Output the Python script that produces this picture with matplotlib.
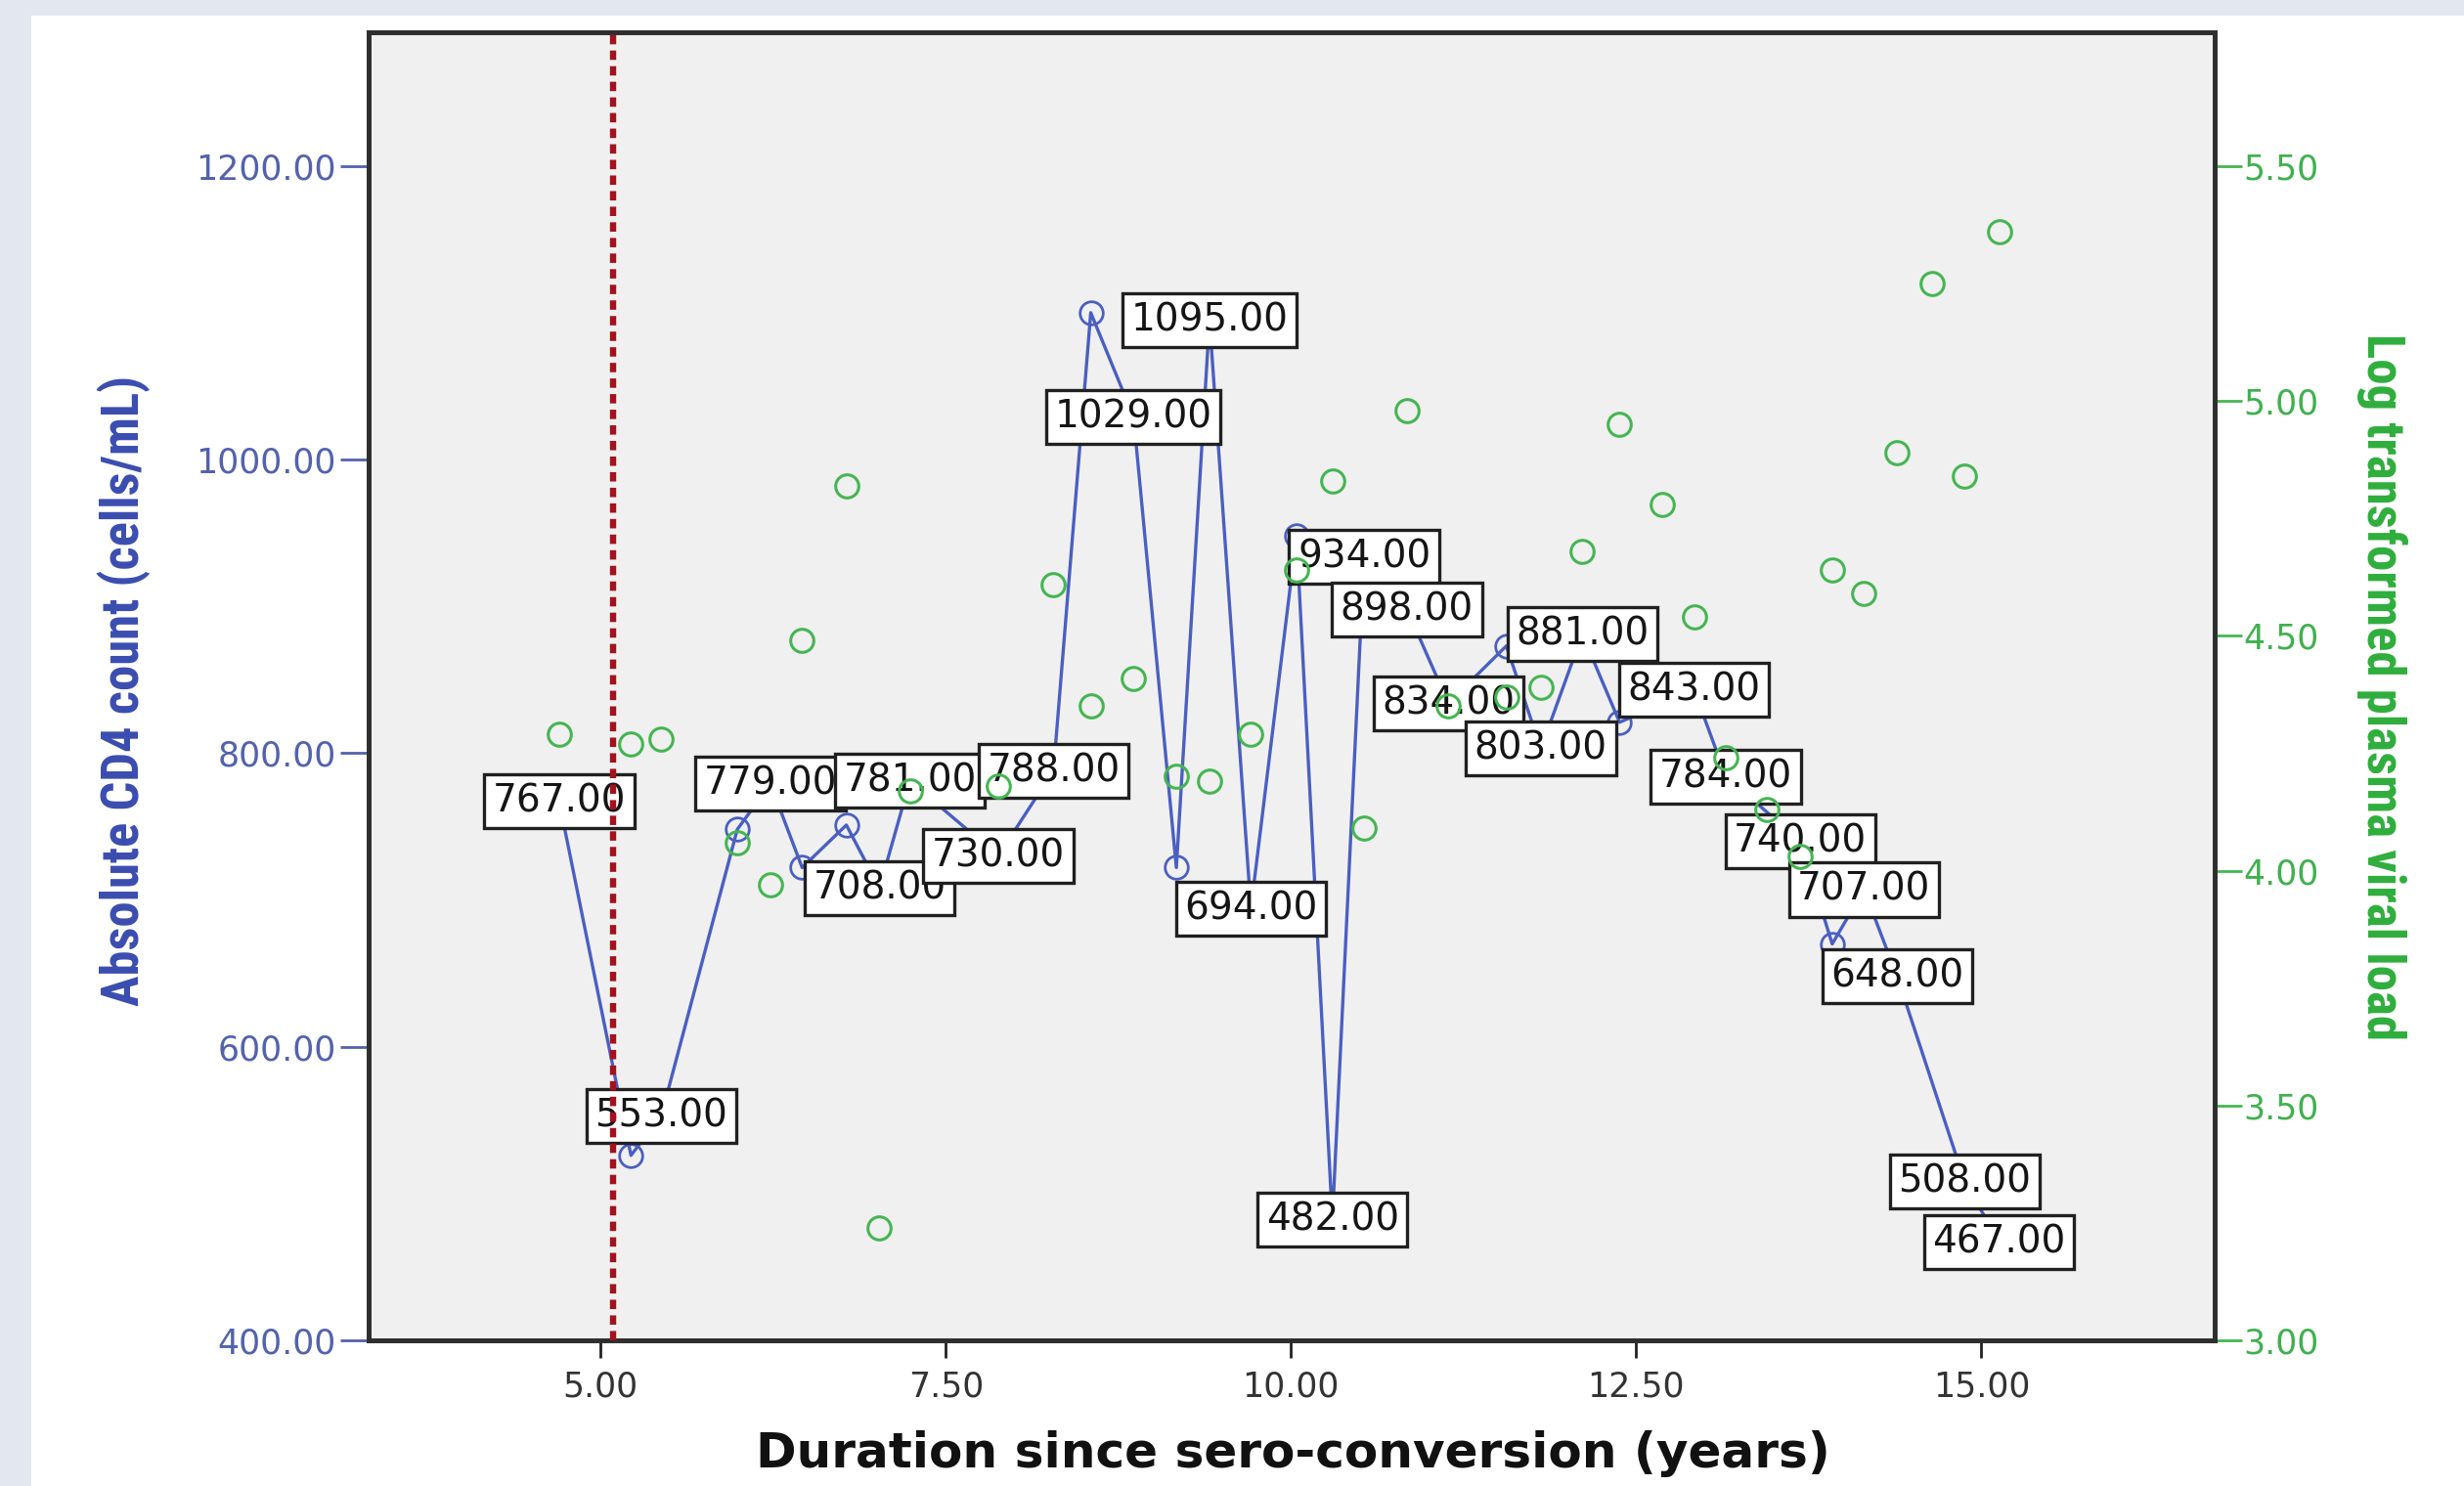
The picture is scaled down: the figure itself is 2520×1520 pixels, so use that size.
import matplotlib
matplotlib.use('Agg')
import matplotlib.pyplot as plt
from matplotlib import font_manager
from matplotlib.patches import Rectangle

# time points (years since sero-conversion)
years = [4.70, 5.22, 5.44, 5.99, 6.23, 6.46, 6.78, 7.02, 7.24, 7.88,
         8.28, 8.55, 8.86, 9.17, 9.41, 9.71, 10.04, 10.30, 10.53, 10.84,
         11.14, 11.56, 11.81, 12.11, 12.38, 12.69, 12.92, 13.15, 13.45, 13.69,
         13.92, 14.15, 14.39, 14.64, 14.88, 15.13]

# absolute CD4 count (None = no measurement)
cd4 = [767, 526, 553, 748, 779, 722, 751, 708, 781, 730,
       788, 1100, 1029, 722, 1095, 694, 948, 482, 934, 898,
       834, 873, 803, 881, 821, None, 843, 784, None, 740,
       670, 707, 648, None, 508, 467]

# which CD4 points carry a value label
cd4_labelled = [1, 0, 1, 0, 1, 0, 0, 1, 1, 1,
                1, 0, 1, 0, 1, 1, 0, 1, 1, 1,
                1, 0, 1, 1, 0, 0, 1, 1, 0, 1,
                0, 1, 1, 0, 1, 1]

# log transformed plasma viral load
viral_load = [4.29, 4.27, 4.28, 4.06, 3.97, 4.49, 4.82, 3.24, 4.17, 4.18,
              4.61, 4.35, 4.41, 4.20, 4.19, 4.29, 4.64, 4.83, 4.09, 4.98,
              4.35, 4.37, 4.39, 4.68, 4.95, 4.78, 4.54, 4.24, 4.13, 4.03,
              4.64, 4.59, 4.89, 5.25, 4.84, 5.36]

ref_line = 5.09

cd4_ticks = [400, 600, 800, 1000, 1200]
vl_ticks = [3.0, 3.5, 4.0, 4.5, 5.0, 5.5]
year_ticks = [5.0, 7.5, 10.0, 12.5, 15.0]

blue = '#4a5fc1'
blue_txt = '#5262ad'
green = '#45b552'
green_txt = '#40b04e'

# a narrow bold face for the axis titles if one is installed
installed = {f.name for f in font_manager.fontManager.ttflist}
narrow = 'DejaVu Sans'
for name in ['Liberation Sans Narrow', 'Roboto Condensed', 'Open Sans Condensed',
             'DejaVu Sans Condensed', 'Noto Sans Condensed']:
    if name in installed:
        narrow = name
        break

W, H = 2520, 1520
fig = plt.figure(figsize=(12.6, 7.6), dpi=200, facecolor='white')

# page background strips (left and top)
fig.patches.append(Rectangle((0, 0), 30 / W, 1, transform=fig.transFigure,
                             color='#e2e7f0', zorder=0))
fig.patches.append(Rectangle((0, 1 - 14 / H), 1, 14 / H, transform=fig.transFigure,
                             color='#e2e7f0', zorder=0))

ax = fig.add_axes([377 / W, 1 - 1371 / H, 1888 / W, 1338 / H])
ax.set_facecolor('#f0f0f0')
ax2 = ax.twinx()

# CD4 line
px = [x for x, v in zip(years, cd4) if v is not None]
py = [v for v in cd4 if v is not None]
ax.plot(px, py, '-o', color=blue, lw=1.2, ms=8.5, mfc='none', mec=blue, mew=1.0, zorder=2)

for x, v, lab in zip(years, cd4, cd4_labelled):
    if v is None or not lab:
        continue
    ax.text(x, v, '%.2f' % v, ha='center', va='center', fontsize=14,
            family='DejaVu Sans', color='#151515', zorder=4,
            bbox=dict(boxstyle='square,pad=0.22', fc='white', ec='#202020', lw=1.2))

ax.set_xlim(3.32, 16.69)
ax.set_ylim(400, 1291)
ax.set_xticks(year_ticks)
ax.set_xticklabels(['%.2f' % t for t in year_ticks])
ax.set_yticks(cd4_ticks)
ax.set_yticklabels(['%.2f' % t for t in cd4_ticks])

# viral load scatter
ax2.plot(years, viral_load, 'o', ls='none', ms=8.5, mfc='none', mec=green, mew=1.1, zorder=2)
ax2.axvline(ref_line, color='#a3121e', lw=2.3, ls=(0, (1.5, 1.0)), zorder=3)
ax2.set_ylim(3.0, 5.785)
ax2.set_yticks(vl_ticks)
ax2.set_yticklabels(['%.2f' % t for t in vl_ticks])

for a in (ax, ax2):
    for s in a.spines.values():
        s.set_color('#2e2e2e')
        s.set_linewidth(1.7)

ax.tick_params(axis='y', direction='out', length=10.5, width=1.0, color=blue_txt,
               labelcolor=blue_txt, labelsize=12.5, pad=1.5)
ax.tick_params(axis='x', direction='out', length=6.5, width=1.0, color='#222222',
               labelcolor='#333333', labelsize=12.5, pad=4.5)
ax2.tick_params(axis='y', direction='out', length=10, width=1.0, color=green,
                labelcolor=green_txt, labelsize=12.5, pad=0.5)
for t in ax.get_xticklabels() + ax.get_yticklabels() + ax2.get_yticklabels():
    t.set_family('DejaVu Sans')

# axis titles
ylab = fig.text(127 / W, 1 - 706 / H, 'Absolute CD4 count (cells/mL)', rotation=90,
                ha='center', va='center', color='#3a4db0', fontweight='bold',
                fontsize=16, family=narrow)
y2lab = fig.text(2436 / W, 1 - 703 / H, 'Log transformed plasma viral load', rotation=270,
                 ha='center', va='center', color='#2fae3c', fontweight='bold',
                 fontsize=16, family=narrow)
xlab = fig.text(1322 / W, 1 - 1487 / H, 'Duration since sero-conversion (years)',
                ha='center', va='center', color='#111111', fontweight='bold',
                fontsize=17.5, family='DejaVu Sans')

# size the axis titles to the lengths seen in the chart
fig.canvas.draw()
r = fig.canvas.get_renderer()
for txt, target, vertical in ((ylab, 645, True), (y2lab, 723, True), (xlab, 1101, False)):
    bb = txt.get_window_extent(r)
    length = bb.height if vertical else bb.width
    txt.set_fontsize(txt.get_fontsize() * target / length)

fig.savefig('out.png', dpi=200, facecolor=fig.get_facecolor())
